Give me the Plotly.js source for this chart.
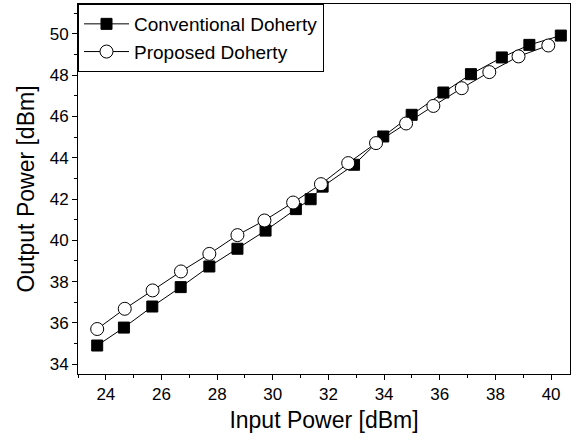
<!DOCTYPE html>
<html>
<head>
<meta charset="utf-8">
<script src="https://cdn.plot.ly/plotly-3.0.1.min.js"></script>
<style>html,body{margin:0;padding:0;background:#fff;}#chart{width:585px;height:440px;}</style>
</head>
<body>
<div id="chart"></div>
<script>
const convX = [23.69, 24.65, 25.67, 26.69, 27.72, 28.73, 29.74, 30.83, 31.36, 31.79, 32.92, 33.97, 34.99, 36.13, 37.12, 38.23, 39.22, 40.35];
const convY = [34.90, 35.77, 36.79, 37.73, 38.73, 39.59, 40.47, 41.51, 41.99, 42.60, 43.66, 45.03, 46.08, 47.16, 48.05, 48.86, 49.47, 49.92];
const propX = [23.69, 24.68, 25.68, 26.70, 27.72, 28.73, 29.70, 30.73, 31.73, 32.71, 33.71, 34.79, 35.77, 36.79, 37.78, 38.83, 39.90];
const propY = [35.70, 36.68, 37.57, 38.49, 39.34, 40.25, 40.96, 41.83, 42.72, 43.74, 44.71, 45.66, 46.51, 47.37, 48.15, 48.91, 49.44];
const seriesNames = ["Conventional Doherty", "Proposed Doherty"];

const FONT = "'Liberation Sans', Arial, sans-serif";

const traces = [
  {x: convX, y: convY, name: seriesNames[0], mode: 'lines+markers', type: 'scatter',
   line: {color: '#000', width: 1},
   marker: {symbol: 'square', size: 11, color: '#000', line: {color: '#000', width: 1}}},
  {x: propX, y: propY, name: seriesNames[1], mode: 'lines+markers', type: 'scatter',
   line: {color: '#000', width: 1},
   marker: {symbol: 'circle', size: 13, color: '#fff', line: {color: '#000', width: 1}}}
];

const axisCommon = {
  showline: true, linecolor: '#000', linewidth: 1, mirror: true,
  ticks: 'outside', ticklen: 5, tickwidth: 1, tickcolor: '#000',
  showgrid: false, zeroline: false,
  tickfont: {family: FONT, size: 17, color: '#000'},
  minor: {dtick: 1, ticks: 'outside', ticklen: 3, tickwidth: 1, tickcolor: '#000', showgrid: false}
};

const layout = {
  width: 585, height: 440,
  margin: {l: 78, r: 15, t: 4, b: 66},
  paper_bgcolor: '#fff', plot_bgcolor: '#fff',
  font: {family: FONT, color: '#000'},
  showlegend: true,
  legend: {x: 0, y: 1, xanchor: 'left', yanchor: 'top', bordercolor: '#000', borderwidth: 1,
    bgcolor: '#fff', font: {family: FONT, size: 19, color: '#000'}, itemwidth: 45, tracegroupgap: 0,
    traceorder: 'normal'},
  xaxis: Object.assign({}, axisCommon, {
    range: [23.0, 40.68], dtick: 2, tick0: 0,
    title: {text: 'Input Power [dBm]', font: {family: FONT, size: 23, color: '#000'}, standoff: 8}
  }),
  yaxis: Object.assign({}, axisCommon, {
    range: [33.52, 51.45], dtick: 2, tick0: 0,
    title: {text: 'Output Power [dBm]', font: {family: FONT, size: 23, color: '#000'}, standoff: 8}
  })
};

Plotly.newPlot('chart', traces, layout, {displayModeBar: false, staticPlot: true});
</script>
</body>
</html>
